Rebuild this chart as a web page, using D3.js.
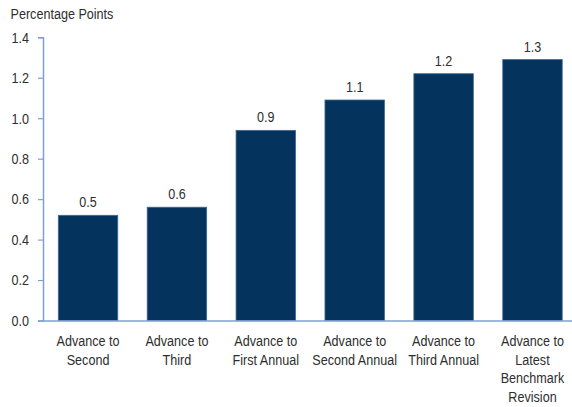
<!DOCTYPE html>
<html><head><meta charset="utf-8">
<script src="https://cdn.jsdelivr.net/npm/d3@7"></script>
<style>
body{margin:0;background:#fff;}
svg text{font-family:"Liberation Sans",Arial,sans-serif;fill:#2e2e2e;}
</style></head>
<body><svg id="c" width="572" height="407"></svg>
<script>
const categories = [["Advance to","Second"],["Advance to","Third"],["Advance to","First Annual"],["Advance to","Second Annual"],["Advance to","Third Annual"],["Advance to","Latest","Benchmark","Revision"]];
const values = [0.52, 0.56, 0.94, 1.09, 1.22, 1.29];
const valueLabels = ["0.5","0.6","0.9","1.1","1.2","1.3"];
const yTicks = [0, 0.2, 0.4, 0.6, 0.8, 1.0, 1.2, 1.4];
const yTitle = "Percentage Points";

const svg = d3.select("#c");
const axisColor = "#7d9fd2";
const barColor = "#04345e";
const sx = 0.84;   // horizontal condensing of text
const fs = 15;

const x = d3.scaleBand().domain(d3.range(categories.length)).range([43, 572])
  .paddingInner(0.331).paddingOuter(0.141).align(0.61);
const y = d3.scaleLinear().domain([0, 1.4]).range([320.5, 37.3]);

// y axis
const ya = svg.append("g").attr("transform","translate(43,0)")
  .call(d3.axisLeft(y).tickValues(yTicks).tickFormat(d3.format(".1f")).tickSizeOuter(0).tickSize(5).tickPadding(14));
ya.select(".domain").attr("stroke", axisColor).attr("stroke-width",1.5);
ya.selectAll(".tick line").attr("stroke", axisColor).attr("stroke-width",1.2);
ya.selectAll(".tick text").attr("font-size",fs).attr("fill","#2e2e2e").attr("font-family",null)
  .attr("x", -14/sx).attr("transform",`scale(${sx},1)`);

// title
svg.append("text").attr("transform",`translate(10.5,18.5) scale(${sx},1)`).attr("font-size",fs).text(yTitle);

// bars
svg.selectAll("rect.bar").data(values).join("rect").attr("class","bar")
  .attr("x",(d,i)=>x(i)).attr("width",x.bandwidth())
  .attr("y",d=>y(d)).attr("height",d=>y(0)-y(d))
  .attr("fill",barColor).attr("stroke","#3f6a94").attr("stroke-width",0.8);

// value labels
svg.selectAll("text.val").data(values).join("text").attr("class","val")
  .attr("transform",(d,i)=>`translate(${x(i)+x.bandwidth()/2},${y(d)-8}) scale(${sx},1)`)
  .attr("text-anchor","middle").attr("font-size",fs).text((d,i)=>valueLabels[i]);

// x axis
const xa = svg.append("g").attr("transform",`translate(0,${y(0)})`)
  .call(d3.axisBottom(x).tickSize(0).tickFormat(""));
xa.select(".domain").attr("stroke", axisColor).attr("stroke-width",1.5);

// category labels
const cl = svg.selectAll("text.cat").data(categories).join("text").attr("class","cat")
  .attr("text-anchor","middle").attr("font-size",fs)
  .attr("transform",(d,i)=>`translate(${x(i)+x.bandwidth()/2},346) scale(${sx},1)`);
cl.selectAll("tspan").data(d=>d).join("tspan").attr("x",0).attr("y",(d,j)=>j*18.7).text(d=>d);
</script></body></html>
